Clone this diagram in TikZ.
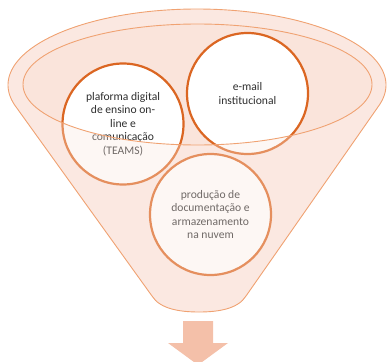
\documentclass[tikz,border=0pt]{standalone}
\usepackage{fontspec}
\setmainfont{Carlito}
\definecolor{conefill}{HTML}{FBE9E2}
\definecolor{innerfill}{HTML}{FAE4DB}
\definecolor{rimline}{HTML}{F0A272}
\definecolor{ringdark}{HTML}{DB6622}
\definecolor{txt}{HTML}{2E2E2E}
\definecolor{arrowfill}{HTML}{F4C0A9}
\definecolor{veil}{HTML}{FBE8DF}
\tikzset{
  funnelpath/.style={insert path={
    plot[domain=15.9:-196.1, samples=140] ({197+189*cos(\x)},{85+76*sin(\x)})
    -- (152,296) .. controls (160,309) and (180,312) .. (199,312)
    .. controls (218,312) and (238,309) .. (246,296) -- cycle}},
  ring/.style={circle, draw=ringdark, line width=2.2pt, fill=white, text=txt,
    align=center, inner sep=0pt, minimum size=121pt,
    font=\fontsize{11.6}{13.5}\selectfont},
}
\begin{document}
\begin{tikzpicture}[x=1pt,y=-1pt]
\clip (0,0) rectangle (387,361);
% back of the funnel
\path[fill=conefill, funnelpath];
\path[fill=innerfill] (197.5,84.5) ellipse [x radius=174.5pt, y radius=60.5pt];
% circles
\node[ring] (plat) at (123,124) {plaforma digital\\de ensino on-\\line e\\comunicação\\(TEAMS)};
\node[ring] (mail) at (247.5,93.5) {e-mail\\institucional};
\node[ring] (prod) at (210.5,214.5) {produção de\\documentação e\\armazenamento\\na nuvem};
% translucent front of the funnel
\path[fill=veil, fill opacity=0.32, even odd rule, funnelpath]
  (197.5,84.5) ellipse [x radius=174.5pt, y radius=60.5pt];
\draw[rimline, line width=0.9pt] (197.5,84.5) ellipse [x radius=174.5pt, y radius=60.5pt];
\draw[rimline, line width=0.9pt, funnelpath];
% arrow
\fill[arrowfill] (183,321) -- (213,321) -- (213,343) -- (228,343) -- (198,365)
  -- (168,343) -- (183,343) -- cycle;
\end{tikzpicture}
\end{document}
